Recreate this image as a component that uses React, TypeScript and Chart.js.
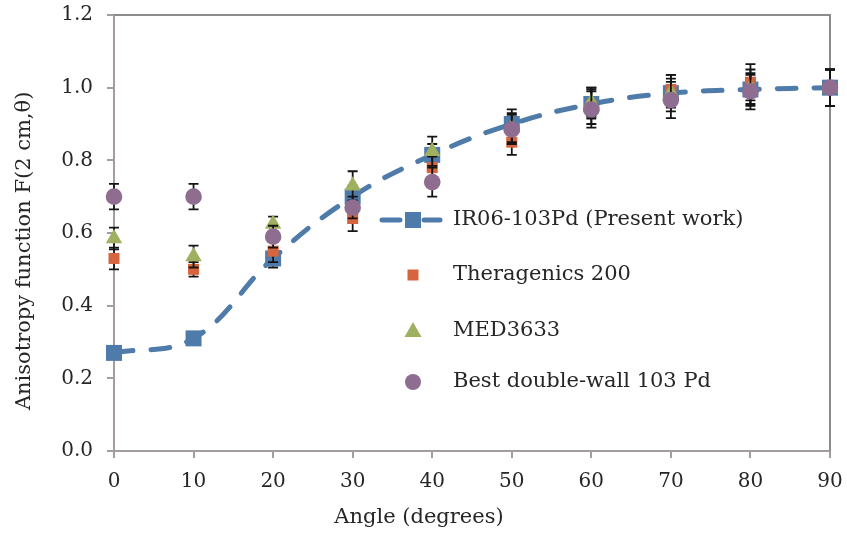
import React, { useEffect, useRef } from "react";
import { Chart, registerables } from "chart.js";

Chart.register(...registerables);

// ---- data ----
const angles = [0, 10, 20, 30, 40, 50, 60, 70, 80, 90];
const ir06 = [0.27, 0.31, 0.53, 0.7, 0.815, 0.9, 0.955, 0.985, 0.995, 1.0];
const ir06Err = [0, 0, 0.025, 0.03, 0.03, 0.04, 0.04, 0.04, 0.04, 0.05];
const thera = [0.53, 0.5, 0.55, 0.64, 0.78, 0.85, 0.95, 0.995, 1.015, 1.0];
const theraErr = [0.03, 0.02, 0.03, 0.035, 0.03, 0.035, 0.05, 0.04, 0.05, 0.05];
const med = [0.585, 0.535, 0.625, 0.73, 0.825, 0.89, 0.96, 0.985, 1.0, 1.0];
const medErr = [0.03, 0.03, 0.02, 0.04, 0.04, 0.04, 0.04, 0.05, 0.05, 0.05];
const best = [0.7, 0.7, 0.59, 0.67, 0.74, 0.885, 0.94, 0.966, 0.99, 1.0];
const bestErr = [0.035, 0.035, 0.03, 0.03, 0.04, 0.04, 0.05, 0.05, 0.05, 0.05];

const seriesNames = [
  "IR06-103Pd (Present work)",
  "Theragenics 200",
  "MED3633",
  "Best double-wall 103 Pd",
];
const xTitle = "Angle (degrees)";
const yTitle = "Anisotropy function F(2 cm,\u03B8)";

const colors = ["#4f7bab", "#d5643f", "#a0b061", "#8e6d91"];
const FONT = "'DejaVu Serif', serif";
const TEXT = "#262626";
const AXIS = "#a59d9d";
const FRAME = "#8c8c8c";

export default function App() {
  const ref = useRef<HTMLCanvasElement>(null);

  useEffect(() => {
    document.body.style.margin = "0";
    const canvas = ref.current;
    if (!canvas) return;

    const valuesByDataset = [ir06, thera, med, best];
    const errorsByDataset = [ir06Err, theraErr, medErr, bestErr];

    const errorBars = {
      id: "errorBars",
      beforeDatasetDraw(chart: any, args: any) {
        const i = args.index;
        const vals = valuesByDataset[i];
        const errs = errorsByDataset[i];
        const ctx = chart.ctx;
        const xs = chart.scales.x;
        const ys = chart.scales.y;
        ctx.save();
        ctx.strokeStyle = "#151515";
        ctx.lineWidth = 1.8;
        for (let j = 0; j < vals.length; j++) {
          const e = errs[j];
          if (!e) continue;
          const px = xs.getPixelForValue(angles[j]);
          const top = ys.getPixelForValue(vals[j] + e);
          const bot = ys.getPixelForValue(vals[j] - e);
          ctx.beginPath();
          ctx.moveTo(px, top);
          ctx.lineTo(px, bot);
          ctx.moveTo(px - 5, top);
          ctx.lineTo(px + 5, top);
          ctx.moveTo(px - 5, bot);
          ctx.lineTo(px + 5, bot);
          ctx.stroke();
        }
        ctx.restore();
      },
    };

    const frame = {
      id: "frame",
      beforeDatasetsDraw(chart: any) {
        const { ctx, chartArea: a } = chart;
        ctx.save();
        ctx.strokeStyle = FRAME;
        ctx.lineWidth = 2;
        ctx.beginPath();
        ctx.moveTo(a.left, a.top);
        ctx.lineTo(a.right, a.top);
        ctx.lineTo(a.right, a.bottom);
        ctx.stroke();
        ctx.restore();
      },
    };

    const titlesAndLegend = {
      id: "titlesAndLegend",
      afterDraw(chart: any) {
        const { ctx, chartArea: a } = chart;
        ctx.save();
        ctx.fillStyle = TEXT;
        ctx.font = `21px ${FONT}`;
        ctx.textBaseline = "middle";
        ctx.textAlign = "center";
        // x title
        ctx.fillText(xTitle, a.left + (a.right - a.left) * 0.426, 518);
        // y title
        ctx.save();
        ctx.translate(25, a.top + (a.bottom - a.top) * 0.541);
        ctx.rotate(-Math.PI / 2);
        ctx.fillText(yTitle, 0, 0);
        ctx.restore();

        // legend
        const mx = 413;
        const tx = 453;
        const rows = [220, 275, 331, 382];
        ctx.textAlign = "left";
        ctx.strokeStyle = colors[0];
        ctx.lineWidth = 5;
        ctx.lineCap = "round";
        ctx.beginPath();
        ctx.moveTo(382, rows[0]);
        ctx.lineTo(400, rows[0]);
        ctx.moveTo(424, rows[0]);
        ctx.lineTo(440, rows[0]);
        ctx.stroke();
        ctx.fillStyle = colors[0];
        ctx.fillRect(mx - 8, rows[0] - 8, 16, 16);
        ctx.fillStyle = colors[1];
        ctx.fillRect(mx - 5.5, rows[1] - 5.5, 11, 11);
        ctx.fillStyle = colors[2];
        ctx.beginPath();
        ctx.moveTo(mx, rows[2] - 9);
        ctx.lineTo(mx + 8.5, rows[2] + 6);
        ctx.lineTo(mx - 8.5, rows[2] + 6);
        ctx.closePath();
        ctx.fill();
        ctx.fillStyle = colors[3];
        ctx.beginPath();
        ctx.arc(mx, rows[3], 8, 0, Math.PI * 2);
        ctx.fill();

        ctx.fillStyle = TEXT;
        for (let i = 0; i < seriesNames.length; i++) {
          ctx.fillText(seriesNames[i], tx, rows[i]);
        }
        ctx.restore();
      },
    };

    const pts = (vals: number[]) => vals.map((v, i) => ({ x: angles[i], y: v }));

    const chart = new Chart(canvas, {
      type: "line",
      data: {
        datasets: [
          {
            label: seriesNames[0],
            data: pts(ir06),
            borderColor: colors[0],
            backgroundColor: colors[0],
            borderWidth: 5,
            borderDash: [19, 18],
            borderCapStyle: "round",
            tension: 0.4,
            pointStyle: "rect",
            pointRadius: 11.3,
            pointBorderWidth: 0,
            pointBackgroundColor: colors[0],
            showLine: true,
            clip: false,
            order: 3,
          },
          {
            label: seriesNames[1],
            data: pts(thera),
            showLine: false,
            pointStyle: "rect",
            pointRadius: 7.8,
            pointBorderWidth: 0,
            pointBackgroundColor: colors[1],
            borderColor: colors[1],
            backgroundColor: colors[1],
            clip: false,
            order: 2,
          },
          {
            label: seriesNames[2],
            data: pts(med),
            showLine: false,
            pointStyle: "triangle",
            pointRadius: 9.5,
            pointBorderWidth: 0,
            pointBackgroundColor: colors[2],
            borderColor: colors[2],
            backgroundColor: colors[2],
            clip: false,
            order: 1,
          },
          {
            label: seriesNames[3],
            data: pts(best),
            showLine: false,
            pointStyle: "circle",
            pointRadius: 8.3,
            pointBorderWidth: 0,
            pointBackgroundColor: colors[3],
            borderColor: colors[3],
            backgroundColor: colors[3],
            clip: false,
            order: 0,
          },
        ] as any,
      },
      options: {
        animation: false,
        responsive: true,
        maintainAspectRatio: false,
        layout: {
          padding: { top: 15, right: 17, left: 0, bottom: 0 },
          autoPadding: false,
        } as any,
        plugins: {
          legend: { display: false },
          tooltip: { enabled: false },
          title: { display: false },
        },
        scales: {
          x: {
            type: "linear",
            min: 0,
            max: 90,
            ticks: {
              stepSize: 10,
              color: TEXT,
              font: { family: FONT, size: 20 },
              padding: 12,
              maxRotation: 0,
              autoSkip: false,
            },
            grid: {
              display: true,
              drawOnChartArea: false,
              drawTicks: true,
              tickLength: 7,
              color: AXIS,
              lineWidth: 2,
            },
            border: { display: true, color: AXIS, width: 2 },
            afterFit(s: any) {
              s.height = 83;
              s.paddingLeft = 0;
              s.paddingRight = 0;
            },
          },
          y: {
            type: "linear",
            min: 0,
            max: 1.2,
            ticks: {
              stepSize: 0.2,
              color: TEXT,
              font: { family: FONT, size: 20 },
              padding: 14,
              callback: (v: any) => Number(v).toFixed(1),
            },
            grid: {
              display: true,
              drawOnChartArea: false,
              drawTicks: true,
              tickLength: 7,
              color: AXIS,
              lineWidth: 2,
            },
            border: { display: true, color: AXIS, width: 2 },
            afterFit(s: any) {
              s.width = 114;
              s.paddingTop = 0;
              s.paddingBottom = 0;
            },
          },
        },
      },
      plugins: [errorBars, frame, titlesAndLegend],
    });

    return () => chart.destroy();
  }, []);

  return (
    <div style={{ width: 847, height: 534, position: "relative" }}>
      <canvas ref={ref} />
    </div>
  );
}
